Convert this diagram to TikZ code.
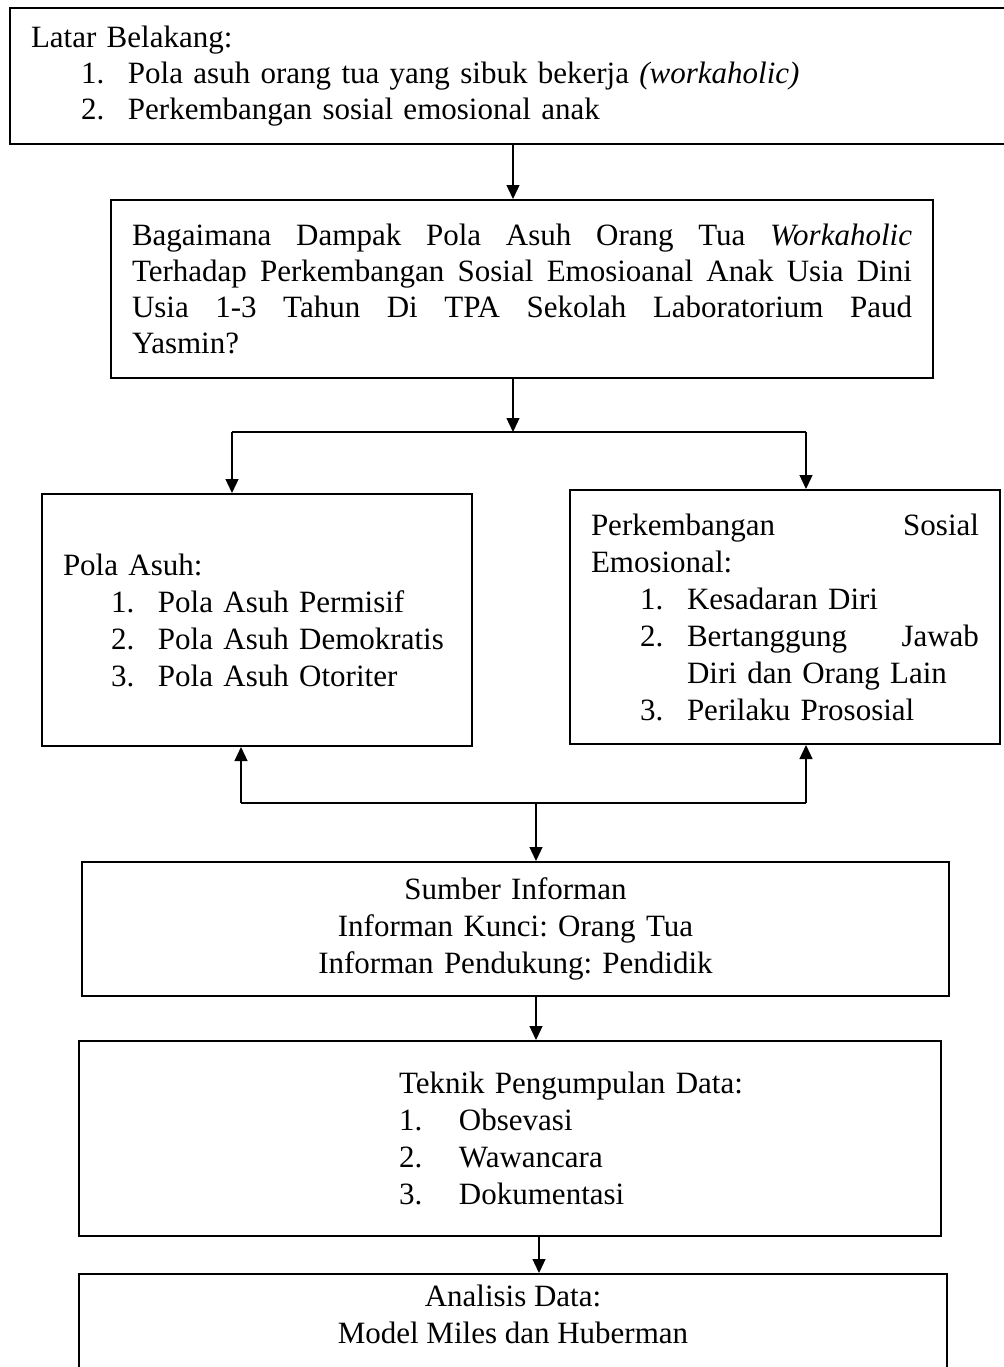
\documentclass[tikz,border=0pt]{standalone}
\usepackage{fontspec}
\setmainfont{Liberation Serif}
\usetikzlibrary{arrows.meta}

\newcommand{\numitem}[3]{\hspace*{#1}\makebox[#2][l]{#3}}
\newcommand{\justline}[2]{\makebox[#1][s]{\spaceskip=0pt\xspaceskip=0pt\relax #2}}

\begin{document}
\begin{tikzpicture}[x = 0.4pt, y = -0.4pt,
		box/.style = {draw, line width = 0.8pt, anchor = north west, inner xsep = 8.4pt, inner ysep = 0pt, align = left, font = \fontsize{12.4}{14.8}\selectfont\frenchspacing},
		line/.style = {line width = 0.5pt},
		arr/.style = {line, -{Triangle[length = 5.6pt, width = 5.2pt]}}]
		\useasboundingbox (0, 0) rectangle (1004, 1367);
		%%%%%%%%%%%%%
		\node [box, text width = 383.6pt, minimum height = 54.4pt, font = \fontsize{12.4}{14.4}\selectfont\frenchspacing] (latar) at (9, 7) {Latar Belakang:\\
			\numitem{20pt}{18.8pt}{1.}Pola asuh orang tua yang sibuk bekerja \textit{(workaholic)}\\
			\numitem{20pt}{18.8pt}{2.}Perkembangan sosial emosional anak};
		\node [box, text width = 312pt, minimum height = 71.2pt, font = \fontsize{12.4}{14.4}\selectfont\frenchspacing] (masalah) at (110, 199) {\justline{312pt}{Bagaimana Dampak Pola Asuh Orang Tua \textit{Workaholic}}\\
			\justline{312pt}{Terhadap Perkembangan Sosial Emosioanal Anak Usia Dini}\\
			\justline{312pt}{Usia 1-3 Tahun Di TPA Sekolah Laboratorium Paud}\\
			Yasmin?};
		\node [box, text width = 155.2pt, minimum height = 100.8pt] (asuh) at (41, 493) {Pola Asuh:\\
			\numitem{19.2pt}{18.8pt}{1.}Pola Asuh Permisif\\
			\numitem{19.2pt}{18.8pt}{2.}Pola Asuh Demokratis\\
			\numitem{19.2pt}{18.8pt}{3.}Pola Asuh Otoriter};
		\node [box, text width = 155.2pt, minimum height = 101.6pt] (sosem) at (569, 489) {\justline{155.2pt}{Perkembangan Sosial}\\
			Emosional:\\
			\numitem{19.6pt}{18.8pt}{1.}Kesadaran Diri\\
			\numitem{19.6pt}{18.8pt}{2.}\justline{116.8pt}{Bertanggung Jawab}\\
			\hspace*{38.4pt}Diri dan Orang Lain\\
			\numitem{19.6pt}{18.8pt}{3.}Perilaku Prososial};
		\node [box, text width = 330pt, minimum height = 53.6pt, align = center] (informan) at (81, 861) {Sumber Informan\\
			Informan Kunci: Orang Tua\\
			Informan Pendukung: Pendidik};
		\node [box, text width = 328pt, minimum height = 78pt] (teknik) at (78, 1040) {\hspace*{119.6pt}Teknik Pengumpulan Data:\\
			\numitem{119.6pt}{24pt}{1.}Obsevasi\\
			\numitem{119.6pt}{24pt}{2.}Wawancara\\
			\numitem{119.6pt}{24pt}{3.}Dokumentasi};
		\node [box, inner ysep = 4.4pt] (analisis) at (78, 1273) {\parbox[c][52pt][t]{330.4pt}{\centering Analisis Data:\\
			Model Miles dan Huberman}};
		%%%%%%%%%%%%%
		\coordinate (xa) at (513, 0); \coordinate (xl) at (232, 0); \coordinate (xr) at (806, 0);
		\coordinate (xm) at (241, 0); \coordinate (xc) at (536, 0); \coordinate (xd) at (539, 0);
		\coordinate (split) at (0, 432); \coordinate (join) at (0, 803);
		%%%%%%%%%%%%%
		\draw [arr] (latar.south -| xa) -- (masalah.north -| xa);
		\draw [arr] (masalah.south -| xa) -- (xa |- split);
		\draw [line] (xl |- split) -- (xr |- split);
		\draw [arr] (xl |- split) -- (asuh.north -| xl); \draw [arr] (xr |- split) -- (sosem.north -| xr);
		\draw [line] (xm |- join) -- (xr |- join);
		\draw [arr] (xm |- join) -- (asuh.south -| xm); \draw [arr] (xr |- join) -- (sosem.south -| xr);
		\draw [arr] (xc |- join) -- (informan.north -| xc);
		\draw [arr] (informan.south -| xc) -- (teknik.north -| xc);
		\draw [arr] (teknik.south -| xd) -- (analisis.north -| xd);
\end{tikzpicture}
\end{document}
